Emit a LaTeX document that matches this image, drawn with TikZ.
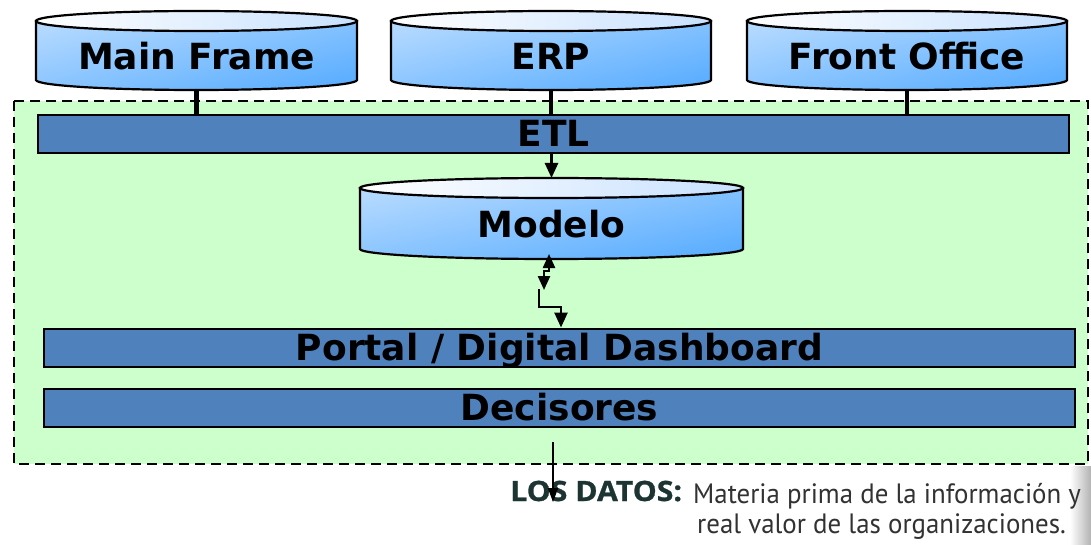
\documentclass[tikz,border=0pt]{standalone}
\usepackage{fontspec}
\setmainfont{DejaVu Sans}
\newfontfamily\headfont[FakeStretch=1.08,FakeBold=1]{Open Sans}
\newfontfamily\bodyfont[FakeStretch=0.96]{PT Sans}
\usetikzlibrary{arrows.meta}

\definecolor{zonegreen}{RGB}{204,255,204}
\definecolor{barblue}{RGB}{79,129,189}
\definecolor{cyldeep}{RGB}{30,144,255}
\definecolor{cylmid}{RGB}{176,206,255}
\definecolor{cylpale}{RGB}{245,249,255}
\definecolor{cyllid}{RGB}{200,225,255}
\definecolor{headink}{RGB}{28,52,50}
\definecolor{bodyink}{RGB}{50,50,50}

\tikzset{
  x=1pt, y=-1pt,
  zone/.style={fill=zonegreen, draw=black, line width=1.8pt, dash pattern=on 10pt off 6pt},
  labelfont/.style={font=\fontsize{36}{40}\selectfont\bfseries},
  bar/.style={labelfont, fill=barblue, draw=black, line width=2pt,
    minimum width=1031pt, minimum height=38pt, inner sep=0pt,
    text height=26pt, text depth=0pt},
  cylshade/.style={top color=cylpale, middle color=cylmid, bottom color=cyldeep},
  cylline/.style={draw=black, line width=2.2pt},
  cyltop/.style={draw=black, line width=2.2pt, left color=white, right color=cyllid},
  cyllabel/.style={labelfont, anchor=base, inner sep=0pt},
  feed/.style={line width=4.5pt},
  flow/.style={line width=2.6pt, -{Triangle[length=15pt,width=13pt]}},
  twoway/.style={line width=2.4pt, {Triangle[length=14pt,width=12pt]}-{Triangle[length=14pt,width=12pt]}},
  outflow/.style={line width=1.6pt, -{Triangle[length=14pt,width=10pt]}},
  caption/.style={anchor=base west, inner sep=0pt},
}

% outline of a drum body: centre x, half width, lid centre y, base centre y
\newcommand{\drumbody}[4]{%
  ({#1-#2},#3) -- ({#1-#2},#4)
    .. controls ({#1-#2},{#4+5.5}) and ({#1-0.5523*#2},{#4+10}) .. ({#1},{#4+10})
    .. controls ({#1+0.5523*#2},{#4+10}) and ({#1+#2},{#4+5.5}) .. ({#1+#2},#4)
    -- ({#1+#2},#3) -- cycle}

% database drum: name, centre x, half width, lid centre y, base centre y, label baseline y, label
\newcommand{\dbdrum}[7]{%
  \pgfmathsetmacro{\drumH}{#5-#4+20}
  \pgfmathsetmacro{\drumD}{\drumH*1.4142}
  \pgfmathsetmacro{\drumM}{(#4+#5)/2}
  \pgfmathsetmacro{\drumK}{2*#3/\drumH}
  \begin{scope}
    \clip \drumbody{#2}{#3}{#4}{#5};
    % light-to-deep blue wash running from the upper left to the lower right corner
    \shade[cylshade, transform canvas={shift={(#2,\drumM)}, xscale=\drumK, rotate=45}]
      ({-\drumD},{-\drumD}) rectangle ({\drumD},{\drumD});
  \end{scope}
  \path[cylline] \drumbody{#2}{#3}{#4}{#5};
  \path[cyltop] (#2,#4) ellipse[x radius=#3, y radius=10];
  \node[cyllabel] (#1) at (#2,#6) {#7};
  \coordinate (#1-top) at (#2,{#4-10});
  \coordinate (#1-bot) at (#2,{#5+10});
}

\begin{document}
\begin{tikzpicture}
  \useasboundingbox (0,0) rectangle (1091,545);
  \fill[white] (0,0) rectangle (1091,545);

  % faint page edge at the lower right
  \shade[left color=white, right color=black!30] (1070,466) rectangle (1091,545);

  % caption below the diagram
  \node[caption, text=headink,
        font=\headfont\fontsize{28}{32}\selectfont\bfseries] (cap1) at (510,501) {LOS DATOS:};
  \node[caption, text=bodyink,
        font=\bodyfont\fontsize{28}{32}\selectfont] (cap2) at (693,503) {Materia prima de la información y};
  \node[caption, text=bodyink,
        font=\bodyfont\fontsize{28}{32}\selectfont] (cap3) at (697,533) {real valor de las organizaciones.};

  % shaded working area
  \draw[zone] (14,101) rectangle (1088,464);

  % source systems
  \dbdrum{mf}{196.5}{160.5}{21}{80}{70}{Main Frame}
  \dbdrum{erp}{551}{160}{21}{80}{70}{ERP}
  \dbdrum{fo}{907}{160}{21}{80}{70}{Front Office}

  % layers
  \node[bar] (etl) at (553.5,134) {ETL};
  \node[bar] (portal) at (559.5,347.5) {Portal / Digital Dashboard};
  \node[bar] (dec) at (559.5,407.5) {Decisores};

  \dbdrum{modelo}{551.5}{191.5}{188}{249}{237}{Modelo}

  % feeds into ETL
  \draw[feed] (mf-bot) -- (mf-bot |- etl.north);
  \draw[feed] (erp-bot) -- (erp-bot |- etl.north);
  \draw[feed] (fo-bot) -- (fo-bot |- etl.north);

  % ETL loads the model
  \draw[flow] (etl.south -| modelo-top) -- (modelo-top);

  % model to portal
  \coordinate (mz0) at (549,254);
  \coordinate (mz1) at (549,271);
  \coordinate (mz3) at (544,290);
  \coordinate (mz4) at (539,289);
  \coordinate (mz5) at (561,307);
  \draw[twoway] (mz0) -- (mz1) -| (mz3);
  \draw[flow] (mz4) |- (mz5) -- (mz5 |- portal.north);

  % decisions leave the area
  \coordinate (outa) at (553,442);
  \coordinate (outb) at (553,502);
  \draw[outflow] (outa) -- (outb);
\end{tikzpicture}
\end{document}
